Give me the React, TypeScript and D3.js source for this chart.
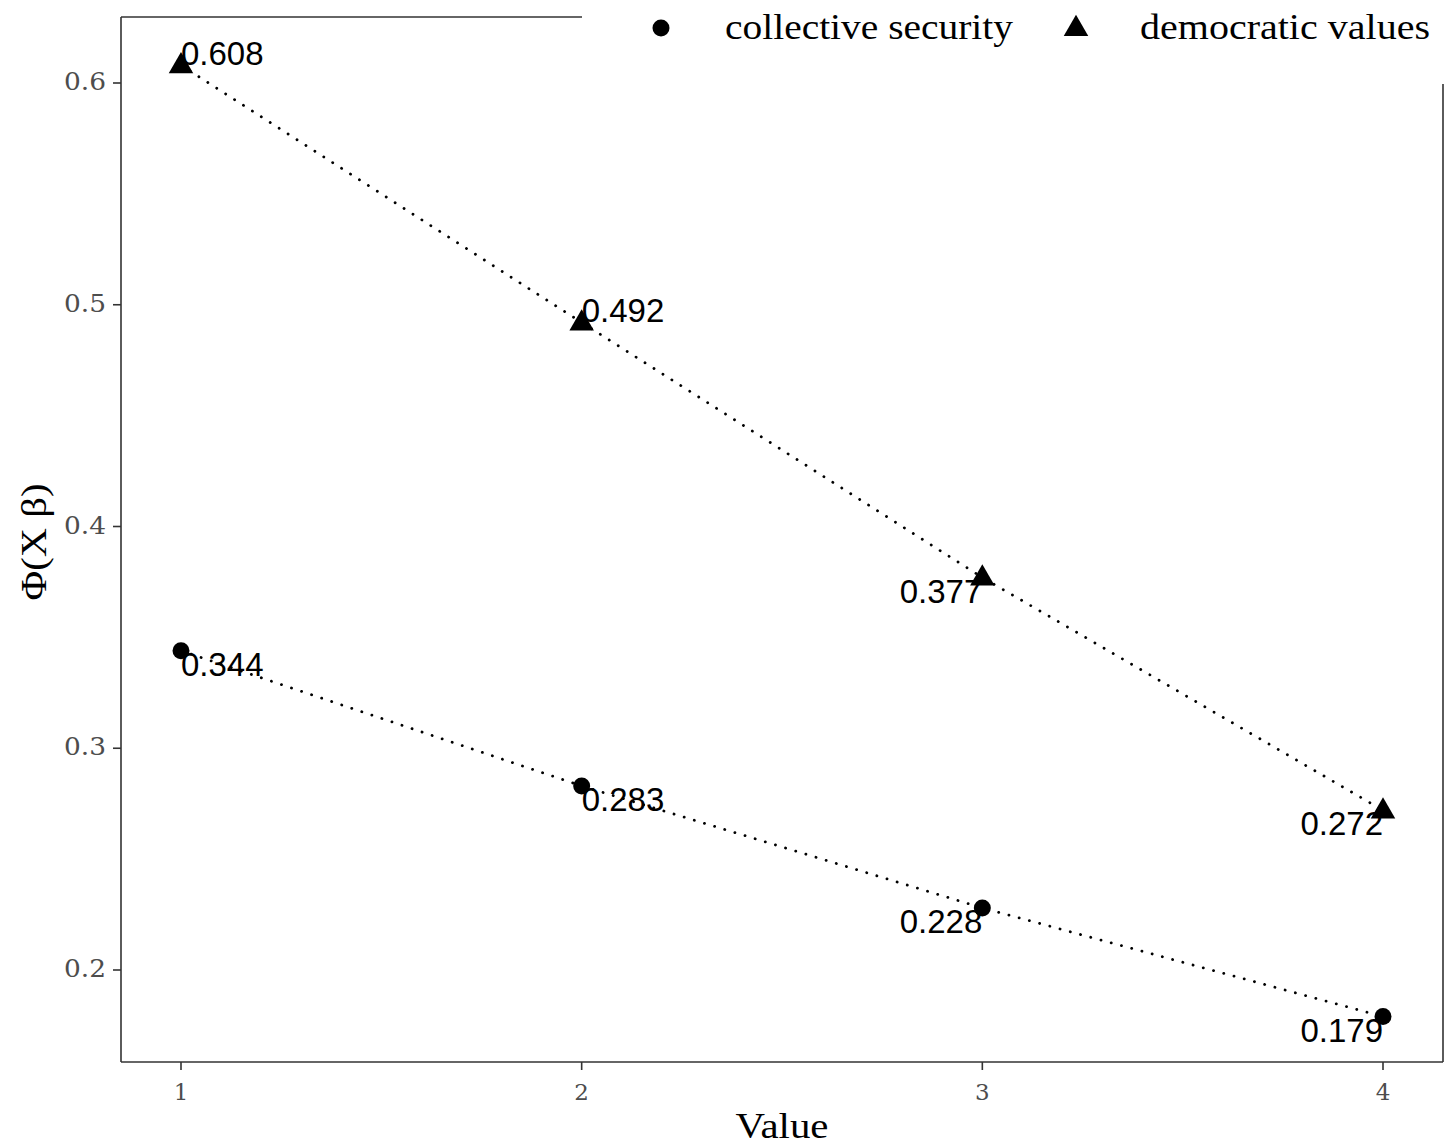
import React from "react";
import * as d3 from "d3";

const xValues = [1, 2, 3, 4];
const collectiveSecurity = [0.344, 0.283, 0.228, 0.179];
const democraticValues = [0.608, 0.492, 0.377, 0.272];
const yTicks = [0.2, 0.3, 0.4, 0.5, 0.6];
const xTicks = [1, 2, 3, 4];
const seriesNames = ["collective security", "democratic values"];
// label placement: [hjust, vjust] per point
const collectiveAnchors = [["start", "top"], ["start", "top"], ["end", "top"], ["end", "top"]];
const democraticAnchors = [["start", "bottom"], ["start", "bottom"], ["end", "top"], ["end", "top"]];

const W = 1453, H = 1146;
const left = 121, right = 1443, top = 17, bottom = 1062;
const serif = "'Liberation Serif', 'DejaVu Serif', serif";
const tickFont = "'DejaVu Serif', serif";
const sans = "'Liberation Sans', Arial, sans-serif";

export default function App() {
  const x = d3.scaleLinear().domain([1, 4]).range([181, 1383]);
  const y = d3.scaleLinear().domain([0.2, 0.6]).range([970, 83]);
  const line = d3.line<number>().x((_, i) => x(xValues[i])).y((d) => y(d));
  const tri = d3.symbol().type(d3.symbolTriangle).size(260)();

  const labels = (vals: number[], anchors: string[][]) =>
    vals.map((v, i) => (
      <text
        key={i}
        x={x(xValues[i])}
        y={y(v) + (anchors[i][1] === "top" ? 25 : 0)}
        textAnchor={anchors[i][0]}
        fontFamily={sans}
        fontSize={33}
        fill="#000"
      >
        {v.toFixed(3)}
      </text>
    ));

  return (
    <svg width={W} height={H} style={{ position: "absolute", left: 0, top: 0, background: "#fff" }}>
      <rect width={W} height={H} fill="#fff" />
      {/* panel border */}
      <line x1={left} x2={left} y1={top} y2={bottom} stroke="#333" strokeWidth={1.6} />
      <line x1={left} x2={right} y1={bottom} y2={bottom} stroke="#333" strokeWidth={1.6} />
      <line x1={left} x2={right} y1={top} y2={top} stroke="#333" strokeWidth={1.6} />
      <line x1={right} x2={right} y1={top} y2={bottom} stroke="#333" strokeWidth={1.6} />

      {/* lines */}
      <path d={line(collectiveSecurity) || ""} fill="none" stroke="#000" strokeWidth={2.8} strokeDasharray="0.1,10.5" strokeLinecap="round" />
      <path d={line(democraticValues) || ""} fill="none" stroke="#000" strokeWidth={2.8} strokeDasharray="0.1,10.5" strokeLinecap="round" />

      {/* points */}
      {collectiveSecurity.map((v, i) => (
        <circle key={"c" + i} cx={x(xValues[i])} cy={y(v)} r={8.5} fill="#000" />
      ))}
      {democraticValues.map((v, i) => (
        <path key={"t" + i} d={tri || ""} transform={`translate(${x(xValues[i])},${y(v) + 1})`} fill="#000" />
      ))}

      {labels(collectiveSecurity, collectiveAnchors)}
      {labels(democraticValues, democraticAnchors)}

      {/* y axis */}
      {yTicks.map((t) => (
        <g key={t}>
          <line x1={left - 8} x2={left} y1={y(t)} y2={y(t)} stroke="#333" strokeWidth={1.6} />
          <text x={left - 15} y={y(t) + 7} textAnchor="end" fontFamily={tickFont} fontSize={25} textLength={42} lengthAdjust="spacingAndGlyphs" fill="#4d4d4d">
            {t.toFixed(1)}
          </text>
        </g>
      ))}
      {/* x axis */}
      {xTicks.map((t) => (
        <g key={t}>
          <line x1={x(t)} x2={x(t)} y1={bottom} y2={bottom + 8} stroke="#333" strokeWidth={1.6} />
          <text x={x(t)} y={bottom + 38} textAnchor="middle" fontFamily={tickFont} fontSize={23} fill="#4d4d4d">
            {t}
          </text>
        </g>
      ))}
      <text x={782} y={1138} textAnchor="middle" fontFamily={serif} fontSize={36} textLength={93} lengthAdjust="spacingAndGlyphs" fill="#000">
        Value
      </text>
      <text transform={`translate(46,542) rotate(-90)`} textAnchor="middle" fontFamily={serif} fontSize={36} textLength={117} lengthAdjust="spacingAndGlyphs" fill="#000">
        Φ(X β)
      </text>

      {/* legend */}
      <rect x={582} y={0} width={W - 582} height={84} fill="#fff" />
      <circle cx={661} cy={28} r={8.5} fill="#000" />
      <text x={725} y={39} fontFamily={serif} fontSize={36} textLength={288} lengthAdjust="spacingAndGlyphs" fill="#000">{seriesNames[0]}</text>
      <path d={tri || ""} transform="translate(1076,29)" fill="#000" />
      <text x={1140} y={39} fontFamily={serif} fontSize={36} textLength={290} lengthAdjust="spacingAndGlyphs" fill="#000">{seriesNames[1]}</text>
    </svg>
  );
}
